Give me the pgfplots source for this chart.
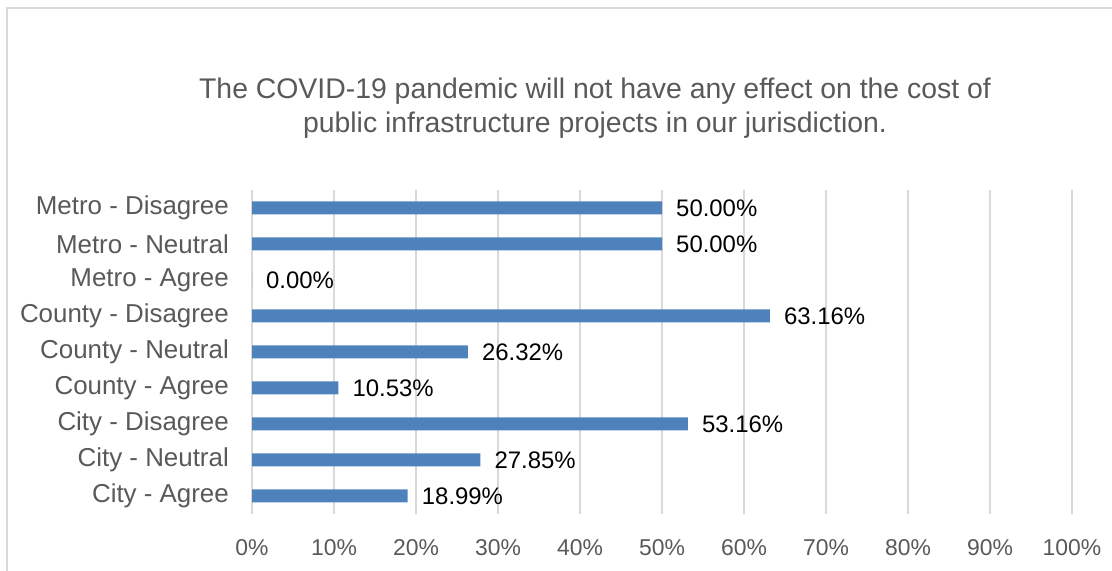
\documentclass[border=0pt]{standalone}
\usepackage{pgfplots}
\pgfplotsset{compat=1.18}
\usepackage{fontspec}
\setmainfont{Liberation Sans}
\definecolor{barblue}{HTML}{4F81BD}
\definecolor{gridgray}{HTML}{D9D9D9}
\definecolor{txtgray}{HTML}{595959}
\begin{document}
\begin{tikzpicture}[x=1bp,y=1bp]
\path[use as bounding box] (0,0) rectangle (1112,571);
\draw[gridgray, line width=1.5bp] (7,0) -- (7,563) -- (1112,563);
\node[txtgray, anchor=base, font=\fontsize{28.5}{34}\selectfont] at (595,472) {The COVID-19 pandemic will not have any effect on the cost of};
\node[txtgray, anchor=base, font=\fontsize{28.5}{34}\selectfont] at (595,438) {public infrastructure projects in our jurisdiction.};
\begin{axis}[
  at={(252bp,57bp)}, anchor=south west,
  scale only axis, width=820bp, height=324bp,
  xbar, bar width=13bp,
  xmin=0, xmax=100, ymin=-0.5, ymax=8.5,
  xtick={0,10,...,100},
  xticklabels={0\%,10\%,20\%,30\%,40\%,50\%,60\%,70\%,80\%,90\%,100\%},
  ytick={0,...,8},
  yticklabels={City - Agree, City - Neutral, City - Disagree, County - Agree, County - Neutral, County - Disagree, Metro - Agree, Metro - Neutral, Metro - Disagree},
  axis line style={draw=none},
  major tick length=0pt,
  xmajorgrids, ymajorgrids=false,
  grid style={gridgray, line width=1.5bp},
  xticklabel style={txtgray, font=\fontsize{23}{28}\selectfont, inner sep=0pt, yshift=-25bp},
  yticklabel style={txtgray, font=\fontsize{26}{30}\selectfont, inner sep=0pt, xshift=-23bp},
  point meta=x,
  nodes near coords={\pgfmathprintnumber[fixed,fixed zerofill,precision=2,assume math mode=true]{\pgfplotspointmeta}\%},
  nodes near coords style={black, anchor=west, inner sep=0pt, xshift=14bp, font=\fontsize{24}{28}\selectfont},
  clip=false,
]
\addplot[fill=barblue, draw=none] coordinates {
(18.99,0) (27.85,1) (53.16,2) (10.53,3) (26.32,4) (63.16,5) (0,6) (50,7) (50,8)
};
\end{axis}
\end{tikzpicture}
\end{document}
